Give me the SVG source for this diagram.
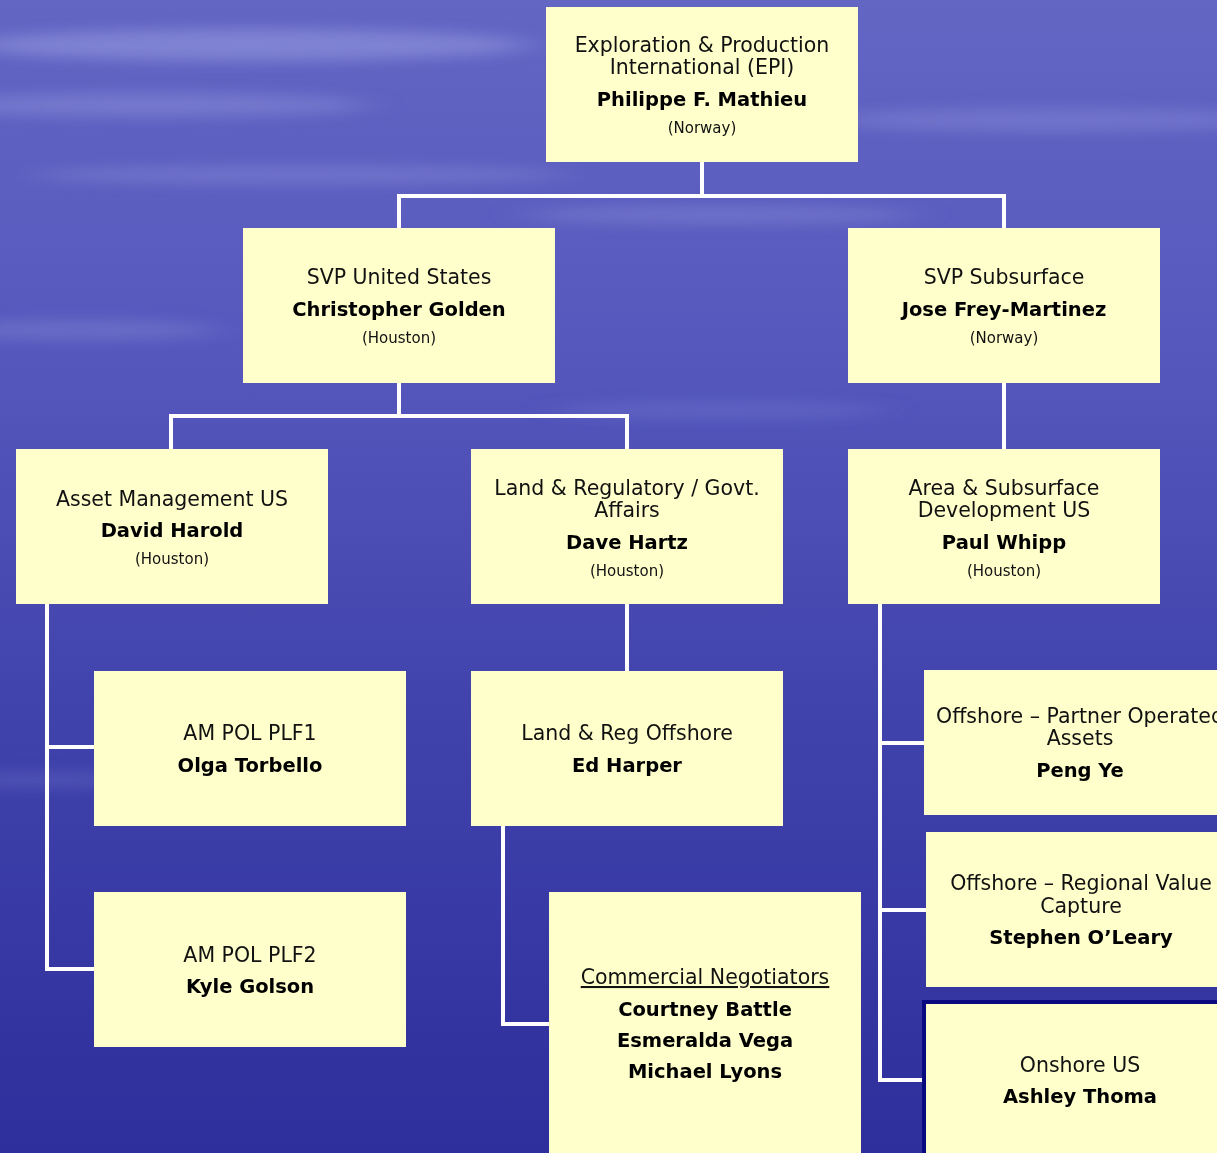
<svg xmlns="http://www.w3.org/2000/svg" width="1217" height="1153" viewBox="0 0 1217 1153">
<defs>
<linearGradient id="bg" x1="0" y1="0" x2="0" y2="1">
<stop offset="0" stop-color="#6466c4"/>
<stop offset="0.3" stop-color="#5658bd"/>
<stop offset="0.6" stop-color="#4244ad"/>
<stop offset="1" stop-color="#2e2e9c"/>
</linearGradient>
<filter id="blur" x="-30%" y="-300%" width="160%" height="700%"><feGaussianBlur stdDeviation="20 7"/></filter>
<style>
.box{fill:#ffffcc}
.t{font-family:"DejaVu Sans","Verdana",sans-serif;font-size:20.5px;fill:#111;text-anchor:middle}
.b{font-family:"DejaVu Sans","Verdana",sans-serif;font-size:19.5px;font-weight:bold;fill:#000;text-anchor:middle}
.s{font-family:"DejaVu Sans","Verdana",sans-serif;font-size:15px;fill:#111;text-anchor:middle}
.c{fill:none;stroke:#ffffff;stroke-width:4}
</style>
</defs>
<rect width="1217" height="1153" fill="url(#bg)"/>
<g id="background-streaks" fill="#b8bcf0" filter="url(#blur)">
<ellipse cx="250" cy="45" rx="280" ry="16" opacity="0.35"/>
<ellipse cx="150" cy="105" rx="220" ry="12" opacity="0.25"/>
<ellipse cx="1050" cy="120" rx="220" ry="12" opacity="0.2"/>
<ellipse cx="300" cy="175" rx="270" ry="10" opacity="0.2"/>
<ellipse cx="720" cy="215" rx="200" ry="10" opacity="0.2"/>
<ellipse cx="80" cy="330" rx="140" ry="10" opacity="0.2"/>
<ellipse cx="720" cy="410" rx="170" ry="8" opacity="0.15"/>
<ellipse cx="40" cy="780" rx="100" ry="8" opacity="0.15"/>
</g>
<g id="connectors" class="c">
<path class="c" d="M702 162V196M399 196H1004M399 194V228M1004 194V228"/>
<path class="c" d="M399 383V416M171 416H627M171 414V449M627 414V449"/>
<path class="c" d="M1004 383V449"/>
<path class="c" d="M47 604V969H94M47 747H94"/>
<path class="c" d="M627 604V671"/>
<path class="c" d="M503 826V1024H549"/>
<path class="c" d="M880 604V1080H922M880 743H924M880 910H926"/>
</g>
<g id="n-epi"><rect class="box" x="546" y="7" width="312" height="155"/>
<text class="t" x="702" y="52">Exploration &amp; Production</text>
<text class="t" x="702" y="74">International (EPI)</text>
<text class="b" x="702" y="106">Philippe F. Mathieu</text>
<text class="s" x="702" y="133">(Norway)</text></g>
<g id="n-svp-us"><rect class="box" x="243" y="228" width="312" height="155"/>
<text class="t" x="399" y="284">SVP United States</text>
<text class="b" x="399" y="316">Christopher Golden</text>
<text class="s" x="399" y="343">(Houston)</text></g>
<g id="n-svp-sub"><rect class="box" x="848" y="228" width="312" height="155"/>
<text class="t" x="1004" y="284">SVP Subsurface</text>
<text class="b" x="1004" y="316">Jose Frey-Martinez</text>
<text class="s" x="1004" y="343">(Norway)</text></g>
<g id="n-asset"><rect class="box" x="16" y="449" width="312" height="155"/>
<text class="t" x="172" y="506">Asset Management US</text>
<text class="b" x="172" y="537">David Harold</text>
<text class="s" x="172" y="564">(Houston)</text></g>
<g id="n-land"><rect class="box" x="471" y="449" width="312" height="155"/>
<text class="t" x="627" y="495">Land &amp; Regulatory / Govt.</text>
<text class="t" x="627" y="517">Affairs</text>
<text class="b" x="627" y="549">Dave Hartz</text>
<text class="s" x="627" y="576">(Houston)</text></g>
<g id="n-area"><rect class="box" x="848" y="449" width="312" height="155"/>
<text class="t" x="1004" y="495">Area &amp; Subsurface</text>
<text class="t" x="1004" y="517">Development US</text>
<text class="b" x="1004" y="549">Paul Whipp</text>
<text class="s" x="1004" y="576">(Houston)</text></g>
<g id="n-plf1"><rect class="box" x="94" y="671" width="312" height="155"/>
<text class="t" x="250" y="740">AM POL PLF1</text>
<text class="b" x="250" y="772">Olga Torbello</text></g>
<g id="n-landoff"><rect class="box" x="471" y="671" width="312" height="155"/>
<text class="t" x="627" y="740">Land &amp; Reg Offshore</text>
<text class="b" x="627" y="772">Ed Harper</text></g>
<g id="n-partner"><rect class="box" x="924" y="670" width="312" height="145"/>
<text class="t" x="1080" y="723">Offshore – Partner Operated</text>
<text class="t" x="1080" y="745">Assets</text>
<text class="b" x="1080" y="777">Peng Ye</text></g>
<g id="n-regional"><rect class="box" x="926" y="832" width="312" height="155"/>
<text class="t" x="1081" y="890">Offshore – Regional Value</text>
<text class="t" x="1081" y="913">Capture</text>
<text class="b" x="1081" y="944">Stephen O’Leary</text></g>
<g id="n-onshore"><rect class="box" x="924" y="1002" width="312" height="160" stroke="#0a0a80" stroke-width="4"/>
<text class="t" x="1080" y="1072">Onshore US</text>
<text class="b" x="1080" y="1103">Ashley Thoma</text></g>
<g id="n-plf2"><rect class="box" x="94" y="892" width="312" height="155"/>
<text class="t" x="250" y="962">AM POL PLF2</text>
<text class="b" x="250" y="993">Kyle Golson</text></g>
<g id="n-commercial"><rect class="box" x="549" y="892" width="312" height="270"/>
<text class="t" x="705" y="984" text-decoration="underline">Commercial Negotiators</text>
<text class="b" x="705" y="1016">Courtney Battle</text>
<text class="b" x="705" y="1047">Esmeralda Vega</text>
<text class="b" x="705" y="1078">Michael Lyons</text></g>
</svg>
